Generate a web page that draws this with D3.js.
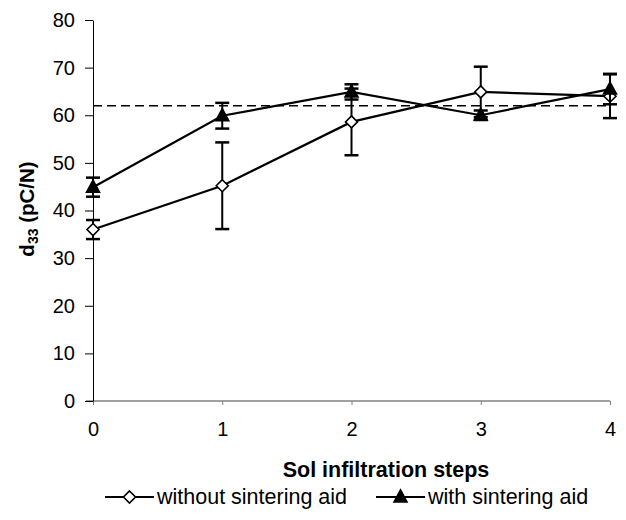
<!DOCTYPE html>
<html>
<head>
<meta charset="utf-8">
<script src="https://cdn.jsdelivr.net/npm/d3@7"></script>
<style>
  body { margin: 0; background: #fff; }
  text { font-family: "Liberation Sans", Arial, sans-serif; }
</style>
</head>
<body>
<div id="chart"></div>
<script>
// sol infiltration steps
const steps = [0, 1, 2, 3, 4];
// d33 without sintering aid, with error
const withoutAid = [36.0, 45.2, 58.6, 64.9, 64.0];
const withoutErr = [2.0, 9.1, 7.0, 5.3, 4.6];
// d33 with sintering aid, with error
const withAid = [44.9, 59.9, 64.9, 60.0, 65.5];
const withErr = [2.0, 2.7, 1.6, 1.0, 3.2];
const refLevel = 62;
const yTicks = [0, 10, 20, 30, 40, 50, 60, 70, 80];

const width = 626, height = 520;
const margin = {top: 20, right: 16, bottom: 119, left: 93};

const svg = d3.select("#chart").append("svg")
    .attr("width", width)
    .attr("height", height);

const g = svg.append("g")
    .attr("transform", "translate(" + margin.left + "," + margin.top + ")");

const w = width - margin.left - margin.right;
const h = height - margin.top - margin.bottom;

const x = d3.scaleLinear().domain([0, 4]).range([0, w]);
const y = d3.scaleLinear().domain([0, 80]).range([h, 0]);

// x axis (grey)
const xAxis = g.append("g")
    .attr("transform", "translate(0," + h + ")")
    .call(d3.axisBottom(x).tickValues(steps).tickFormat(d3.format("d")).tickSize(4).tickPadding(17));
xAxis.select(".domain").remove();
xAxis.insert("line", ":first-child")
    .attr("x1", -7).attr("x2", w)
    .attr("stroke", "#808080").attr("stroke-width", 1.5);
xAxis.selectAll(".tick line").attr("stroke", "#808080");
xAxis.selectAll(".tick text").attr("font-size", 20).attr("fill", "#000");

// y axis
const yAxis = g.append("g")
    .call(d3.axisLeft(y).tickValues(yTicks).tickSize(8).tickSizeOuter(0).tickPadding(10));
yAxis.select(".domain").attr("stroke", "#000");
yAxis.selectAll(".tick line").attr("stroke", "#000");
yAxis.selectAll(".tick text").attr("font-size", 20).attr("fill", "#000");

// dashed reference line
g.append("line")
    .attr("x1", x(0)).attr("x2", x(4))
    .attr("y1", y(refLevel)).attr("y2", y(refLevel))
    .attr("stroke", "#000").attr("stroke-width", 1.3)
    .attr("stroke-dasharray", "9,5");

const line = d3.line()
    .x((d, i) => x(steps[i]))
    .y(d => y(d));

function drawSeries(vals, errs, marker) {
    const s = g.append("g");
    s.selectAll(".err").data(vals).enter().append("g")
        .each(function(d, i) {
            const e = d3.select(this);
            const cx = x(steps[i]);
            e.append("line")
                .attr("x1", cx).attr("x2", cx)
                .attr("y1", y(d - errs[i])).attr("y2", y(d + errs[i]))
                .attr("stroke", "#000").attr("stroke-width", 2);
            [d - errs[i], d + errs[i]].forEach(v => {
                e.append("line")
                    .attr("x1", cx - 7).attr("x2", cx + 7)
                    .attr("y1", y(v)).attr("y2", y(v))
                    .attr("stroke", "#000").attr("stroke-width", 2.5);
            });
        });
    s.append("path")
        .datum(vals)
        .attr("d", line)
        .attr("fill", "none")
        .attr("stroke", "#000")
        .attr("stroke-width", 2.2);
    s.selectAll(".mk").data(vals).enter().append("path")
        .attr("transform", (d, i) => "translate(" + x(steps[i]) + "," + y(d) + ")")
        .attr("d", marker.path)
        .attr("fill", marker.fill)
        .attr("stroke", "#000")
        .attr("stroke-width", 1.6);
}

const diamond = {path: "M0,-6L6,0L0,6L-6,0Z", fill: "#fff"};
const triangle = {path: "M0,-7L6.5,5L-6.5,5Z", fill: "#000"};

drawSeries(withoutAid, withoutErr, diamond);
drawSeries(withAid, withErr, triangle);

// axis titles
svg.append("text")
    .attr("x", 386)
    .attr("y", 477)
    .attr("text-anchor", "middle")
    .attr("font-size", 21.5)
    .attr("font-weight", "bold")
    .text("Sol infiltration steps");

const yt = svg.append("text")
    .attr("transform", "translate(34,209) rotate(-90)")
    .attr("text-anchor", "middle")
    .attr("font-size", 20.5)
    .attr("font-weight", "bold");
yt.append("tspan").text("d");
yt.append("tspan").attr("font-size", 14).attr("dy", 4).text("33");
yt.append("tspan").attr("dy", -4).text(" (pC/N)");

// legend
const legendItems = [
    {label: "without sintering aid", marker: diamond, x: 105},
    {label: "with sintering aid", marker: triangle, x: 376}
];
const lg = svg.append("g").attr("transform", "translate(0,497)");
legendItems.forEach(it => {
    lg.append("line")
        .attr("x1", it.x).attr("x2", it.x + 49)
        .attr("stroke", "#000").attr("stroke-width", 2.2);
    lg.append("path")
        .attr("transform", "translate(" + (it.x + 24.5) + ",0)")
        .attr("d", it.marker.path)
        .attr("fill", it.marker.fill)
        .attr("stroke", "#000").attr("stroke-width", 1.6);
    lg.append("text")
        .attr("x", it.x + 52)
        .attr("y", 7)
        .attr("font-size", 21.5)
        .text(it.label);
});
</script>
</body>
</html>
